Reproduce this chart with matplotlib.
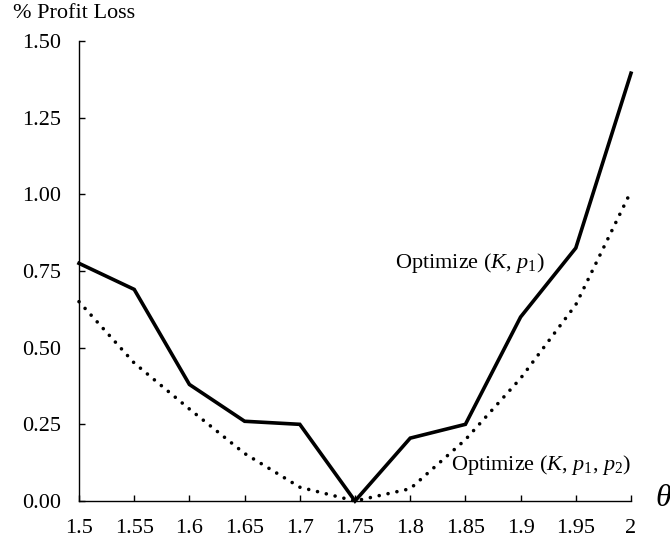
import matplotlib.pyplot as plt

# theta values and profit loss (%) for the two optimizations
theta = [1.5, 1.55, 1.6, 1.65, 1.7, 1.75, 1.8, 1.85, 1.9, 1.95, 2.0]
loss_k_p1 = [0.775, 0.69, 0.38, 0.26, 0.25, 0.0, 0.205, 0.25, 0.60, 0.825, 1.395]
loss_k_p1_p2 = [0.65, 0.45, 0.30, 0.155, 0.045, 0.0, 0.04, 0.20, 0.40, 0.64, 1.01]

x_ticks = [1.5, 1.55, 1.6, 1.65, 1.7, 1.75, 1.8, 1.85, 1.9, 1.95, 2.0]
x_labels = ['1.5', '1.55', '1.6', '1.65', '1.7', '1.75', '1.8', '1.85', '1.9', '1.95', '2']
y_ticks = [0.0, 0.25, 0.5, 0.75, 1.0, 1.25, 1.5]

plt.rcParams['font.family'] = ['Liberation Serif', 'DejaVu Serif']
plt.rcParams['mathtext.fontset'] = 'custom'
plt.rcParams['mathtext.rm'] = 'Liberation Serif'
plt.rcParams['mathtext.it'] = 'Liberation Serif:italic'

fig = plt.figure(figsize=(6.7, 5.42), dpi=100)
ax = fig.add_axes([79 / 670, 41 / 542, (631 - 79) / 670, (501 - 41) / 542])

ax.plot(theta, loss_k_p1, color='black', lw=2.6, solid_joinstyle='miter')
ax.plot(theta, loss_k_p1_p2, color='black', lw=2.6,
        linestyle=(0, (0.01, 2.5)), dash_capstyle='round')

ax.set_xlim(1.5, 2.0)
ax.set_ylim(0, 1.5)
ax.set_xticks(x_ticks)
ax.set_xticklabels(x_labels)
ax.set_yticks(y_ticks)
ax.set_yticklabels([f'{v:.2f}' for v in y_ticks])

for s in ['top', 'right']:
    ax.spines[s].set_visible(False)
for s in ['left', 'bottom']:
    ax.spines[s].set_linewidth(1.0)

ax.tick_params(direction='in', length=4.5, width=1.0, labelsize=16, pad=13)
for line in ax.get_lines():
    line.set_clip_on(False)

ax.text(1.922, 0.776, r'Optimize ($K$, $p_{\mathit{1}}$)', fontsize=16,
        ha='right', va='center')
ax.text(2.0, 0.117, r'Optimize ($K$, $p_{\mathit{1}}$, $p_{\mathit{2}}$)',
        fontsize=16, ha='right', va='center')

fig.text(663 / 670, 1 - 498 / 542, r'$\theta$', fontsize=23,
         ha='center', va='center')
fig.text(13 / 670, 1 - 14 / 542, '% Profit Loss', fontsize=16,
         ha='left', va='center')

fig.savefig('out.png', dpi=100)
